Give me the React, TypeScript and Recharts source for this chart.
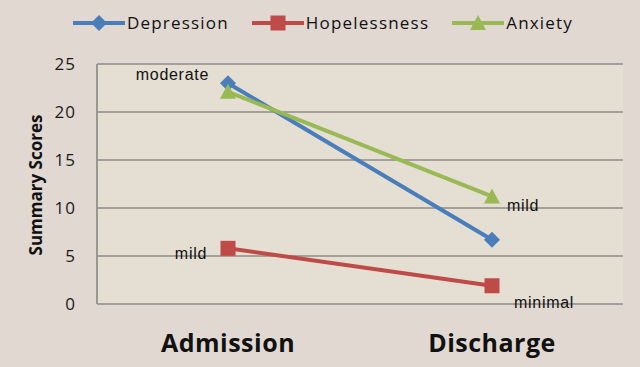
import { CartesianGrid, LabelList, Line, LineChart, XAxis, YAxis } from "recharts";

const categories = ["Admission", "Discharge"];
const depression = [23.0, 6.7];
const hopelessness = [5.8, 1.9];
const anxiety = [22.1, 11.2];
const yTicks = [0, 5, 10, 15, 20, 25];

const depressionNotes = ["moderate", ""];
const hopelessnessNotes = ["mild", "minimal"];
const anxietyNotes = ["", "mild"];

const data = categories.map((name, i) => ({
  name,
  depression: depression[i],
  hopelessness: hopelessness[i],
  anxiety: anxiety[i],
}));

type Marker = "diamond" | "square" | "triangle";

const series: {
  key: string;
  label: string;
  color: string;
  marker: Marker;
  notes: string[];
  noteOffsets: { dx: number; dy: number }[];
}[] = [
  {
    key: "depression",
    label: "Depression",
    color: "#4a7ebb",
    marker: "diamond",
    notes: depressionNotes,
    noteOffsets: [
      { dx: -19, dy: -9 },
      { dx: 0, dy: 0 },
    ],
  },
  {
    key: "hopelessness",
    label: "Hopelessness",
    color: "#be4b48",
    marker: "square",
    notes: hopelessnessNotes,
    noteOffsets: [
      { dx: -21, dy: 5 },
      { dx: 22, dy: 17 },
    ],
  },
  {
    key: "anxiety",
    label: "Anxiety",
    color: "#98b954",
    marker: "triangle",
    notes: anxietyNotes,
    noteOffsets: [
      { dx: 0, dy: 0 },
      { dx: 15, dy: 9 },
    ],
  },
];

const SANS = "'Open Sans', 'DejaVu Sans', sans-serif";

function markerShape(marker: Marker, cx: number, cy: number, color: string) {
  if (marker === "diamond") {
    const r = 8;
    return (
      <polygon
        points={`${cx},${cy - r} ${cx + r},${cy} ${cx},${cy + r} ${cx - r},${cy}`}
        fill={color}
      />
    );
  }
  if (marker === "square") {
    const s = 7.5;
    return <rect x={cx - s} y={cy - s} width={s * 2} height={s * 2} fill={color} />;
  }
  const r = 8;
  return (
    <polygon
      points={`${cx},${cy - r} ${cx + r},${cy + r - 1} ${cx - r},${cy + r - 1}`}
      fill={color}
    />
  );
}

function makeDot(marker: Marker, color: string) {
  return (props: any) => {
    const { cx, cy, index } = props;
    if (cx == null || cy == null) return <g key={index} />;
    return <g key={index}>{markerShape(marker, cx, cy, color)}</g>;
  };
}

function makeNote(notes: string[], offsets: { dx: number; dy: number }[]) {
  return (props: any) => {
    const { x, y, index } = props;
    const text = notes[index];
    if (!text) return null;
    const off = offsets[index];
    return (
      <text
        x={x + off.dx}
        y={y + off.dy}
        textAnchor={off.dx < 0 ? "end" : "start"}
        dominantBaseline="central"
        fontFamily="'Liberation Sans', Arial, sans-serif"
        fontSize={16}
        letterSpacing={0.7}
        fill="#111"
      >
        {text}
      </text>
    );
  };
}

function ChartLegend() {
  return (
    <div
      style={{
        position: "absolute",
        left: 0,
        top: 11,
        width: 646,
        display: "flex",
        justifyContent: "center",
        gap: 23,
        fontFamily: SANS,
        fontSize: 17,
        letterSpacing: 1.2,
        color: "#111",
      }}
    >
      {series.map((s) => (
        <div key={s.key} style={{ display: "flex", alignItems: "center" }}>
          <svg width={52} height={20} style={{ marginRight: 2 }}>
            <line x1={0} y1={10} x2={52} y2={10} stroke={s.color} strokeWidth={4} />
            {markerShape(s.marker, 26, 10, s.color)}
          </svg>
          <span>{s.label}</span>
        </div>
      ))}
    </div>
  );
}

export default function App() {
  return (
    <div
      style={{
        position: "absolute",
        left: 0,
        top: 0,
        width: 640,
        height: 367,
        background: "#e1d8d2",
        overflow: "hidden",
      }}
    >
      <ChartLegend />
      <LineChart
        width={640}
        height={367}
        data={data}
        margin={{ top: 64, right: 17, bottom: 0, left: 0 }}
      >
        <CartesianGrid
          vertical={false}
          stroke="#8e8b87"
          strokeWidth={1.5}
          fill="#e5ded2"
        />
        <XAxis
          dataKey="name"
          axisLine={false}
          tickLine={false}
          tickSize={0}
          tickMargin={30}
          height={63}
          padding={{ left: 131, right: 131 }}
          tick={{
            fontFamily: SANS,
            fontSize: 25,
            fontWeight: 700,
            fill: "#111",
            letterSpacing: 0.5,
          }}
        />
        <YAxis
          domain={[0, 25]}
          ticks={yTicks}
          width={97}
          tickLine={false}
          tickSize={0}
          tickMargin={21}
          axisLine={{ stroke: "#9a9896", strokeWidth: 2 }}
          tick={{ fontFamily: SANS, fontSize: 17, fill: "#1a1a1a", letterSpacing: 1 }}
          label={{
            content: () => (
              <text
                x={35}
                y={185}
                transform="rotate(-90, 35, 185)"
                textAnchor="middle"
                dominantBaseline="central"
                fontFamily={SANS}
                fontSize={17}
                fontWeight={700}
                fill="#111"
              >
                Summary Scores
              </text>
            ),
          }}
        />
        {series.map((s) => (
          <Line
            key={s.key}
            dataKey={s.key}
            name={s.label}
            type="linear"
            stroke={s.color}
            strokeWidth={4}
            dot={makeDot(s.marker, s.color)}
            activeDot={false}
            isAnimationActive={false}
          >
            <LabelList dataKey={s.key} content={makeNote(s.notes, s.noteOffsets)} />
          </Line>
        ))}
      </LineChart>
    </div>
  );
}
